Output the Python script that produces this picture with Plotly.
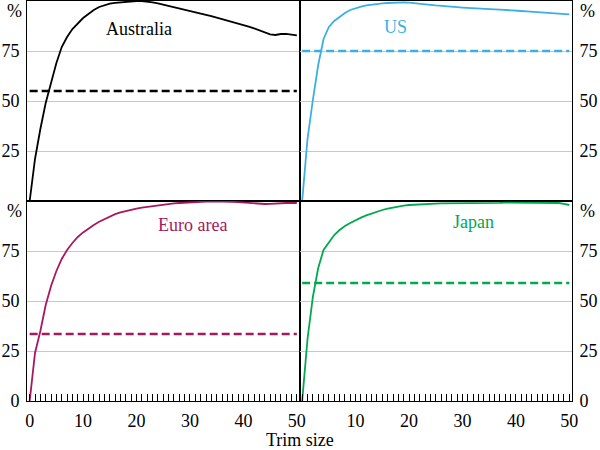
import plotly.graph_objects as go
from plotly.subplots import make_subplots

trim = list(range(51))

australia = [0, 21, 36, 49, 59, 69, 77, 82, 86, 89,
             91.5, 93.5, 95.5, 97, 98, 98.7, 99.1, 99.4, 99.7, 99.9,
             100, 100, 99.8, 99.3, 98.8, 98.2, 97.6, 97, 96.4, 95.8,
             95.2, 94.5, 93.8, 93.1, 92.4, 91.7, 91, 90.2, 89.4, 88.7,
             88, 87.2, 86.3, 85.2, 84, 83.3, 83, 83.5, 83.6, 83.2, 82.8]
us = [0, 31, 50.5, 68, 81, 87, 90, 92, 94, 95.5,
      96.5, 97.2, 97.8, 98.2, 98.5, 98.8, 99, 99.2, 99.3, 99.3,
      99.2, 99, 98.7, 98.4, 98.1, 97.8, 97.5, 97.3, 97.1, 96.9,
      96.7, 96.5, 96.4, 96.2, 96.1, 96, 95.8, 95.7, 95.6, 95.4,
      95.2, 95, 94.8, 94.6, 94.4, 94.2, 94, 93.8, 93.6, 93.4, 93.3]
euro = [0, 24, 35, 48, 57.5, 65, 71, 75.5, 79, 82,
        84.3, 86.3, 88, 89.6, 91, 92.3, 93.4, 94.3, 95, 95.6,
        96.2, 96.7, 97.1, 97.5, 97.9, 98.2, 98.5, 98.8, 99, 99.2,
        99.4, 99.5, 99.6, 99.7, 99.8, 99.8, 99.8, 99.7, 99.6, 99.4,
        99.2, 99, 98.8, 98.6, 98.5, 98.6, 98.8, 98.9, 99, 99, 99]
japan = [0, 31, 52, 66.5, 75.5, 79.5, 83, 85.5, 87.5, 89,
         90.5, 91.7, 92.8, 93.8, 94.7, 95.5, 96.2, 96.8, 97.3, 97.7,
         98, 98.2, 98.4, 98.5, 98.6, 98.7, 98.8, 98.8, 98.9, 98.9,
         99, 99, 99, 99, 99.1, 99.1, 99.1, 99.1, 99.2, 99.2,
         99.2, 99.2, 99.3, 99.3, 99.3, 99.3, 99.3, 99.2, 99, 98.6, 98]

# dashed reference levels
thresholds = {'Australia': 55, 'US': 75, 'Euro area': 33.5, 'Japan': 59}

FONT = 'Liberation Serif, Times New Roman, serif'
FS = 18
panels = [
    # name, values, colour, row, col, label x, label y
    ('Australia', australia, '#000000', 1, 1, 20.5, 86),
    ('US', us, '#3AB0E2', 1, 2, 17.5, 87),
    ('Euro area', euro, '#A6195E', 2, 1, 30.5, 88),
    ('Japan', japan, '#00A84F', 2, 2, 32, 89.5),
]

fig = make_subplots(rows=2, cols=2, horizontal_spacing=0, vertical_spacing=0)

for name, vals, col, r, c, lx, ly in panels:
    fig.add_trace(go.Scatter(x=trim, y=vals, mode='lines',
                             line=dict(color=col, width=1.8)), row=r, col=c)
    fig.add_trace(go.Scatter(x=trim, y=[thresholds[name]] * len(trim), mode='lines',
                             line=dict(color=col, width=2.5, dash='8px,4px')), row=r, col=c)
    fig.add_annotation(x=lx, y=ly, text=name, showarrow=False,
                       font=dict(color=col, size=FS, family=FONT), row=r, col=c)

x_ticks = [0, 10, 20, 30, 40, 50]
for r in (1, 2):
    for c in (1, 2):
        bottom = (r == 2)
        labels = [str(t) for t in x_ticks]
        if c == 2:
            labels[0] = ''  # 0 would clash with the 50 of the left panel
        fig.update_xaxes(
            range=[-0.5, 50.5], showgrid=False, zeroline=False, automargin=False,
            showline=True, mirror=True, linecolor='black', linewidth=1,
            tickmode='array', tickvals=x_ticks, ticktext=labels,
            showticklabels=bottom, ticks='inside' if bottom else '',
            ticklen=7, tickcolor='black', ticklabelstandoff=3,
            minor=dict(tick0=0, dtick=1, ticks='inside' if bottom else '',
                       ticklen=7, tickcolor='black', showgrid=False),
            tickfont=dict(size=FS, family=FONT, color='black'),
            row=r, col=c)
        yt = [0, 25, 50, 75] if bottom else [25, 50, 75]
        fig.update_yaxes(
            range=[0, 100], side='left' if c == 1 else 'right', automargin=False,
            showgrid=True, gridcolor='#C8C8C8', gridwidth=1, zeroline=False,
            showline=True, mirror=True, linecolor='black', linewidth=1,
            tickmode='array', tickvals=yt, ticks='', ticklabelstandoff=3,
            tickfont=dict(size=FS, family=FONT, color='black'),
            row=r, col=c)
        # % unit marker near top of each panel
        fig.add_annotation(x=0 if c == 1 else 1, y=95, xref='x domain', yref='y',
                           text='%', showarrow=False,
                           xanchor='right' if c == 1 else 'left',
                           xshift=-3 if c == 1 else 6,
                           font=dict(size=FS, family=FONT, color='black'),
                           row=r, col=c)

fig.add_annotation(x=0.5, y=0, xref='paper', yref='paper', yshift=-39,
                   text='Trim size', showarrow=False, yanchor='middle',
                   font=dict(size=FS, family=FONT, color='black'))

fig.update_layout(
    template='none',
    width=600, height=450,
    showlegend=False,
    plot_bgcolor='white', paper_bgcolor='white',
    margin=dict(l=27, r=28, t=1, b=49),
    font=dict(family=FONT),
)

# page body has a default 8px margin; drop it so the figure fills the window
fig.write_html("out.html", config={'displayModeBar': False},
               post_script="document.body.style.margin='0';")
